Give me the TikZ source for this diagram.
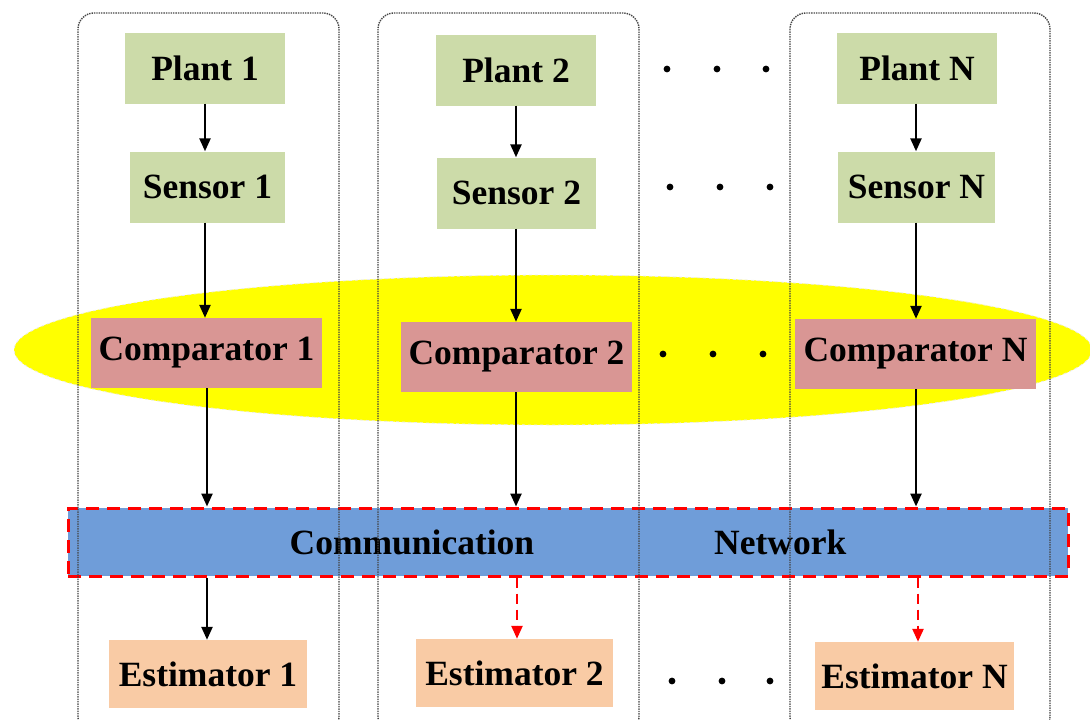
\documentclass[tikz,border=0pt]{standalone}
\usepackage{fontspec}
\setmainfont{Liberation Serif}
\usetikzlibrary{arrows.meta}
\definecolor{plantgreen}{HTML}{CCDBA9}
\definecolor{compred}{HTML}{D99694}
\definecolor{estorange}{HTML}{F9CBA5}
\definecolor{netblue}{HTML}{6F9DD9}
\definecolor{framegray}{HTML}{444444}
\definecolor{ellyellow}{rgb}{1,1,0}
\tikzset{
  blk/.style={inner sep=0pt, font=\fontsize{35.5}{40}\selectfont\bfseries, text=black},
  greenbox/.style={blk, fill=plantgreen, minimum width=#1, minimum height=71pt},
  compbox/.style={blk, fill=compred, minimum width=#1, minimum height=70pt},
  estbox/.style={blk, fill=estorange, minimum width=#1, minimum height=68pt},
  frame/.style={draw=framegray, densely dotted, line width=1.4pt, rounded corners=16pt},
  arr/.style={line width=2.4pt, -{Triangle[length=13pt,width=11pt]}},
  redarr/.style={line width=2.4pt, red, dash pattern=on 10pt off 6pt, -{Triangle[length=13pt,width=11pt]}},
  dot/.style={fill=black}
}
\begin{document}
\begin{tikzpicture}[x=1pt,y=-1pt]
\useasboundingbox (0,0) rectangle (1090,720);
% ellipse
\fill[ellyellow] (553,350) ellipse [x radius=539, y radius=75];
\draw[white!85!gray, dashed, line width=0.8pt] (553,350) ellipse [x radius=539, y radius=75];
% network
\node[blk, fill=netblue, draw=red, line width=3pt, dash pattern=on 13pt off 8pt,
  minimum width=1000pt, minimum height=68pt] (net) at (568,542)
  {Communication\hspace{180pt}Network};
% frames
\draw[frame] (78,13) rectangle (339,733);
\draw[frame] (378,13) rectangle (639,733);
\draw[frame] (790,13) rectangle (1050,733);
% column 1
\node[greenbox=160pt] (p1) at (205,68) {Plant 1};
\node[greenbox=155pt] (s1) at (207.5,187) {Sensor 1};
\node[compbox=231pt] (c1) at (206.5,353) {Comparator 1};
\node[estbox=198pt] (e1) at (208,674) {Estimator 1};
% column 2
\node[greenbox=160pt] (p2) at (516,70) {Plant 2};
\node[greenbox=159pt] (s2) at (516.5,193) {Sensor 2};
\node[compbox=231pt] (c2) at (516.5,357) {Comparator 2};
\node[estbox=197pt] (e2) at (514.5,673) {Estimator 2};
% column N
\node[greenbox=160pt] (pN) at (917,68) {Plant N};
\node[greenbox=157pt] (sN) at (916.5,187) {Sensor N};
\node[compbox=241pt] (cN) at (915.5,354) {Comparator N};
\node[estbox=199pt] (eN) at (914.5,676) {Estimator N};
% arrows
\draw[arr] (p1.south -| 205,0) -- (s1.north -| 205,0);
\draw[arr] (s1.south -| 205,0) -- (c1.north -| 205,0);
\draw[arr] (c1.south -| 207,0) -- (net.north -| 207,0);
\draw[arr] (net.south -| 207,0) -- (e1.north -| 207,0);
\draw[arr] (p2.south -| 516,0) -- (s2.north -| 516,0);
\draw[arr] (s2.south -| 516,0) -- (c2.north -| 516,0);
\draw[arr] (c2.south -| 516,0) -- (net.north -| 516,0);
\draw[redarr] (net.south -| 517,0) -- (e2.north -| 517,0);
\draw[arr] (pN.south -| 916,0) -- (sN.north -| 916,0);
\draw[arr] (sN.south -| 916,0) -- (cN.north -| 916,0);
\draw[arr] (cN.south -| 916,0) -- (net.north -| 916,0);
\draw[redarr] (net.south -| 918,0) -- (eN.north -| 918,0);
% dots
\foreach \x/\y in {667/69, 717/69, 766/69, 670/187, 720/187, 770/187, 663/354, 713/354, 763/354, 672/681, 722/681, 770/681}
  \fill[dot] (\x,\y) circle (3.4pt);
\end{tikzpicture}
\end{document}
